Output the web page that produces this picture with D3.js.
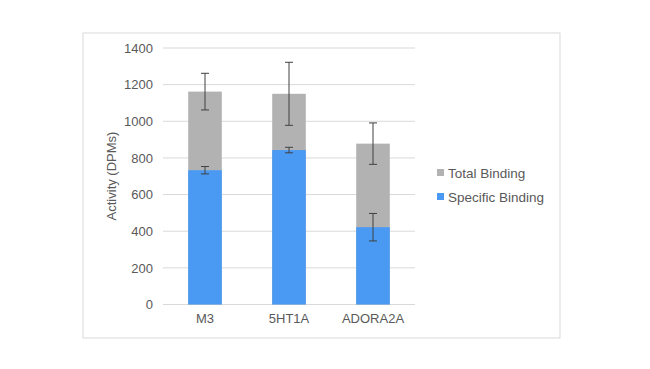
<!DOCTYPE html>
<html>
<head>
<meta charset="utf-8">
<script src="https://cdn.jsdelivr.net/npm/d3@7"></script>
<style>
  body { margin: 0; background: #fff; }
  text { font-family: "Liberation Sans", Arial, sans-serif; fill: #595959; }
</style>
</head>
<body>
<svg id="chart" width="650" height="369"></svg>
<script>
// data
const receptors = ["M3", "5HT1A", "ADORA2A"]
const totalBinding = [1162, 1150, 878]
const totalErr = [100, 172, 113]
const specificBinding = [733, 843, 422]
const specificErr = [20, 15, 75]
const yTicks = [0, 200, 400, 600, 800, 1000, 1200, 1400]

const svg = d3.select("#chart")

// outer chart frame
svg.append("rect")
    .attr("x", 83).attr("y", 33)
    .attr("width", 477).attr("height", 305)
    .attr("fill", "#fff")
    .attr("stroke", "#d9d9d9")

const x = d3.scaleBand()
    .domain(receptors)
    .range([163, 415])
    .paddingInner(0.6)
    .paddingOuter(0.3)

const y = d3.scaleLinear()
    .domain([0, 1400])
    .range([304.5, 48])

// gridlines
svg.append("g")
    .selectAll("line")
    .data(yTicks)
    .enter()
    .append("line")
        .attr("x1", 163).attr("x2", 415)
        .attr("y1", d => y(d)).attr("y2", d => y(d))
        .attr("stroke", "#d9d9d9")

// y axis labels
const yAxis = svg.append("g")
    .attr("transform", "translate(163,0)")
    .call(d3.axisLeft(y).tickValues(yTicks).tickFormat(d3.format("d")).tickSize(0).tickPadding(10))
yAxis.select(".domain").remove()
yAxis.selectAll("text")
    .style("font-size", "13px")
    .attr("fill", "#595959")
    .style("font-family", "Liberation Sans, Arial, sans-serif")

// x axis labels
const xAxis = svg.append("g")
    .attr("transform", "translate(0,304.5)")
    .call(d3.axisBottom(x).tickSize(0).tickPadding(9))
xAxis.select(".domain").remove()
xAxis.selectAll("text")
    .style("font-size", "13px")
    .attr("fill", "#595959")
    .style("font-family", "Liberation Sans, Arial, sans-serif")

svg.append("text")
    .attr("transform", "translate(116,176) rotate(-90)")
    .attr("text-anchor", "middle")
    .style("font-size", "13px")
    .text("Activity (DPMs)")

// total binding behind, specific binding in front
svg.selectAll(".total")
    .data(receptors)
    .enter()
    .append("rect")
        .attr("class", "total")
        .attr("x", d => x(d))
        .attr("y", (d, i) => y(totalBinding[i]))
        .attr("width", x.bandwidth())
        .attr("height", (d, i) => y(0) - y(totalBinding[i]))
        .attr("fill", "#b2b2b2")

svg.selectAll(".specific")
    .data(receptors)
    .enter()
    .append("rect")
        .attr("class", "specific")
        .attr("x", d => x(d))
        .attr("y", (d, i) => y(specificBinding[i]))
        .attr("width", x.bandwidth())
        .attr("height", (d, i) => y(0) - y(specificBinding[i]))
        .attr("fill", "#4a9af3")

function drawErr(vals, errs){
    const g = svg.append("g").attr("stroke", "#404040").attr("stroke-width", 1)
    receptors.forEach((r, i) => {
        const cx = x(r) + x.bandwidth() / 2
        const top = y(vals[i] + errs[i]), bot = y(vals[i] - errs[i])
        g.append("line").attr("x1", cx).attr("x2", cx).attr("y1", top).attr("y2", bot)
        g.append("line").attr("x1", cx - 4).attr("x2", cx + 4).attr("y1", top).attr("y2", top)
        g.append("line").attr("x1", cx - 4).attr("x2", cx + 4).attr("y1", bot).attr("y2", bot)
    })
}
drawErr(totalBinding, totalErr)
drawErr(specificBinding, specificErr)

// legend
const legend = [["Total Binding", "#b2b2b2"], ["Specific Binding", "#4a9af3"]]
legend.forEach((l, i) => {
    svg.append("rect")
        .attr("x", 437).attr("y", 169 + i * 24)
        .attr("width", 7).attr("height", 7)
        .attr("fill", l[1])
    svg.append("text")
        .attr("x", 448).attr("y", 177.5 + i * 24)
        .style("font-size", "13.5px")
        .text(l[0])
})
</script>
</body>
</html>
